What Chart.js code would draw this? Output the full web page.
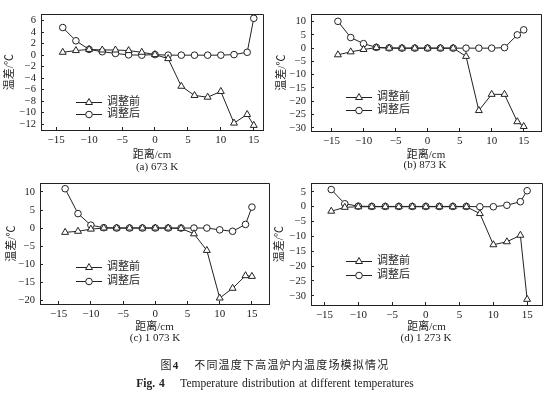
<!DOCTYPE html>
<html><head><meta charset="utf-8"><title>不同温度下高温炉内温度场模拟情况</title>
<script src="https://cdn.jsdelivr.net/npm/chart.js"></script>
<style>
body { margin: 0; background: #fff; width: 554px; height: 393px; position: relative; overflow: hidden; }
.box { position: absolute; }
.cap { position: absolute; font: 11px 'Liberation Serif', 'Noto Sans CJK SC', serif; color: #222; line-height: 14px; white-space: nowrap; transform: translateX(-50%); }
.fig1 { position: absolute; left: 275px; top: 356px; transform: translateX(-50%); font: 11px 'Noto Sans CJK SC', sans-serif; letter-spacing: 1.2px; color: #222; white-space: nowrap; }
.fig2 { position: absolute; left: 275px; top: 377px; transform: translateX(-50%); font: 11.5px 'Liberation Serif', serif; word-spacing: 1px; color: #222; white-space: nowrap; }
</style>
</head>
<body>
<div class="box" style="left:0;top:0;width:277px;height:160px"><canvas id="ca"></canvas></div>
<div class="box" style="left:272px;top:0;width:282px;height:160px"><canvas id="cb"></canvas></div>
<div class="box" style="left:0;top:169px;width:277px;height:163px"><canvas id="cc"></canvas></div>
<div class="box" style="left:272px;top:169px;width:282px;height:163px"><canvas id="cd"></canvas></div>
<div class="cap" style="left:157px;top:159px">(a) 673 K</div>
<div class="cap" style="left:425px;top:157px">(b) 873 K</div>
<div class="cap" style="left:155px;top:330px">(c) 1 073 K</div>
<div class="cap" style="left:426px;top:330px">(d) 1 273 K</div>
<div class="fig1">图<b style="font-family:'Liberation Serif'">4</b>&nbsp;&nbsp;&nbsp;&nbsp;不同温度下高温炉内温度场模拟情况</div>
<div class="fig2"><b>Fig. 4</b>&nbsp;&nbsp;&nbsp;&nbsp;Temperature distribution at different temperatures</div>
<script>
// distance along furnace, cm
const distance = [-14, -12, -10, -8, -6, -4, -2, 0, 2, 4, 6, 8, 10, 12, 14, 15];

// temperature difference, °C  (调整前 = before, 调整后 = after)
const before673  = [0.5, 0.8, 1.0, 0.9, 0.9, 0.8, 0.5, 0.1, -0.6, -5.4, -7.0, -7.3, -6.3, -11.8, -10.3, -12.2];
const after673   = [4.8, 2.5, 1.0, 0.6, 0.3, 0.05, 0, 0.1, 0, 0, 0, 0, 0, 0.1, 0.5, 6.4];
const before873  = [-2.5, -1.4, -0.5, 0.2, 0, 0, 0, 0, 0, 0, -3.1, -23.5, -17.4, -17.4, -27.7, -29.5];
const after873   = [10.1, 4.0, 1.7, 0.3, 0.1, 0, 0, 0, 0, 0, 0, 0, 0, 0.2, 5.0, 6.9];
const before1073 = [-1.2, -0.9, -0.3, 0, 0, 0, 0, 0, 0, -0.1, -1.6, -6.2, -19.4, -16.7, -13.2, -13.4];
const after1073  = [10.9, 4.0, 0.8, 0.1, 0, 0, 0, 0, 0, 0, 0, 0, -0.5, -0.9, 1.0, 5.8];
const before1273 = [-1.5, -0.2, 0, 0, 0, 0, 0, 0, 0, 0, 0, -2.3, -12.8, -11.8, -9.6, -31.2];
const after1273  = [5.8, 1.0, 0.2, 0.1, 0.1, 0.1, 0.1, 0.1, 0.1, 0.1, 0.1, 0, 0, 0.5, 1.7, 5.4];

const xTicks = [-15, -10, -5, 0, 5, 10, 15];
const yTicksA = [-12, -10, -8, -6, -4, -2, 0, 2, 4, 6];
const yTicksB = [-30, -25, -20, -15, -10, -5, 0, 5, 10];
const yTicksC = [-20, -15, -10, -5, 0, 5, 10];
const yTicksD = [-30, -25, -20, -15, -10, -5, 0, 5];

const seriesNames = ['调整前', '调整后'];
const ink = '#222';
const serif = "'Liberation Serif', 'Noto Sans CJK SC', serif";

const panels = [
  { id: 'ca', before: before673,  after: after673,  yTicks: yTicksA, x: [-17.3, 16.4], y: [-13, 7.1],
    yW: 41, padTop: 8, padRight: 14, xH: 30, yPad: 3.4, leg: [35, 88, 100] },
  { id: 'cb', before: before873,  after: after873,  yTicks: yTicksB, x: [-18.2, 17.7], y: [-31.2, 12.75],
    yW: 39, padTop: 8, padRight: 13, xH: 29, yPad: 3.4, leg: [35, 83, 96] },
  { id: 'cc', before: before1073, after: after1073, yTicks: yTicksC, x: [-17.9, 17.65], y: [-21.05, 12.4],
    yW: 40, padTop: 8, padRight: 8, xH: 28, yPad: 5.4, leg: [36, 84, 98] },
  { id: 'cd', before: before1273, after: after1273, yTicks: yTicksD, x: [-17, 17.2], y: [-33.1, 7.9],
    yW: 39, padTop: 8, padRight: 12, xH: 27, yPad: 1.4, leg: [35, 78, 92] }
];

const fmt = v => (v < 0 ? '\u2212' + Math.abs(v) : '' + v);

function marker(ctx, style, x, y) {
  ctx.beginPath();
  if (style === 'triangle') {
    const r = 4;
    ctx.moveTo(x, y - r);
    ctx.lineTo(x + r * 0.866, y + r * 0.5);
    ctx.lineTo(x - r * 0.866, y + r * 0.5);
    ctx.closePath();
  } else {
    ctx.arc(x, y, 3.3, 0, Math.PI * 2);
  }
  ctx.fill();
  ctx.stroke();
}

const framePlugin = {
  id: 'frame',
  afterDraw(chart) {
    const a = chart.chartArea, ctx = chart.ctx, p = chart.options.plugins.frame;
    ctx.save();
    ctx.strokeStyle = ink;
    ctx.lineWidth = 1;
    ctx.beginPath();
    ctx.moveTo(Math.round(a.left), Math.round(a.top) + 0.5);
    ctx.lineTo(Math.round(a.right) + 0.5, Math.round(a.top) + 0.5);
    ctx.lineTo(Math.round(a.right) + 0.5, Math.round(a.bottom));
    ctx.stroke();
    // legend inside the plot
    const styles = ['triangle', 'circle'];
    ctx.font = "11px " + serif;
    ctx.textBaseline = 'middle';
    ctx.fillStyle = ink;
    [p.leg[1], p.leg[2]].forEach((dy, i) => {
      const x0 = a.left + p.leg[0], y0 = Math.round(a.top + dy) + 0.5;
      ctx.beginPath();
      ctx.moveTo(x0, y0);
      ctx.lineTo(x0 + 26, y0);
      ctx.stroke();
      ctx.fillStyle = '#fff';
      marker(ctx, styles[i], x0 + 13, y0);
      ctx.fillStyle = ink;
      ctx.fillText(seriesNames[i], x0 + 31, y0);
    });
    ctx.restore();
  }
};

panels.forEach(p => {
  const mk = (vals, style, label) => ({
    label,
    data: distance.map((d, i) => ({ x: d, y: vals[i] })),
    borderColor: ink,
    borderWidth: 1,
    pointStyle: style,
    pointRadius: style === 'triangle' ? 4 : 3.3,
    pointBackgroundColor: '#fff',
    pointBorderColor: ink,
    pointBorderWidth: 1,
    clip: false
  });
  new Chart(document.getElementById(p.id), {
    type: 'line',
    data: { datasets: [mk(p.before, 'triangle', seriesNames[0]), mk(p.after, 'circle', seriesNames[1])] },
    options: {
      responsive: true,
      maintainAspectRatio: false,
      animation: false,
      layout: { padding: { left: 0, top: p.padTop, right: p.padRight, bottom: 0 } },
      plugins: { legend: { display: false }, tooltip: { enabled: false }, frame: { leg: p.leg } },
      scales: {
        x: {
          type: 'linear', min: p.x[0], max: p.x[1],
          afterBuildTicks: s => { s.ticks = xTicks.map(v => ({ value: v })); },
          afterFit: s => { s.height = p.xH; },
          grid: { drawOnChartArea: false, tickLength: -3, color: ink },
          border: { color: ink },
          ticks: { autoSkip: false, padding: 7, color: ink, font: { family: serif, size: 11 }, callback: fmt, maxRotation: 0 },
          title: { display: true, text: '距离/cm', color: ink, font: { family: serif, size: 11 }, padding: { top: 0, bottom: -2 } }
        },
        y: {
          type: 'linear', min: p.y[0], max: p.y[1],
          afterBuildTicks: s => { s.ticks = p.yTicks.map(v => ({ value: v })); },
          afterFit: s => { s.width = p.yW; },
          grid: { drawOnChartArea: false, tickLength: -3, color: ink },
          border: { color: ink },
          ticks: { autoSkip: false, padding: 8, color: ink, font: { family: serif, size: 10.5 }, callback: fmt },
          title: { display: true, text: '温差/℃', color: ink, font: { family: serif, size: 11 }, padding: { top: p.yPad, bottom: 0 } }
        }
      }
    },
    plugins: [framePlugin]
  });
});
</script>
</body></html>
